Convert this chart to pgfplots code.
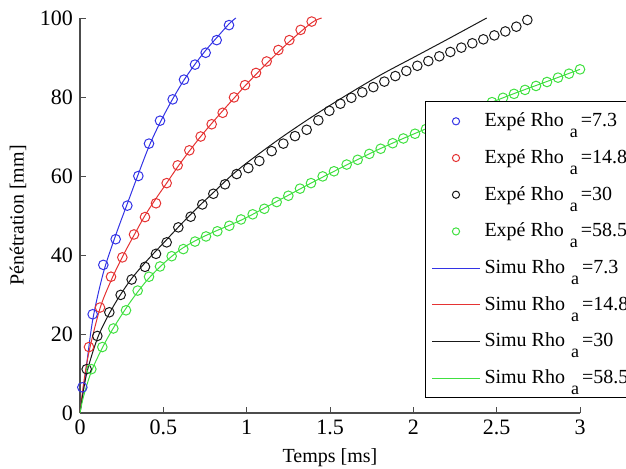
\documentclass[border=0pt]{standalone}
\usepackage{fontspec}
\setmainfont{Liberation Serif}
\usepackage{pgfplots}
\pgfplotsset{compat=1.18}

\definecolor{cb}{rgb}{0.2,0.2,0.9}
\definecolor{cr}{rgb}{0.9,0.2,0.2}
\definecolor{ck}{rgb}{0.1,0.1,0.1}
\definecolor{cg}{rgb}{0.25,0.88,0.25}
\newcommand{\rhoa}{Rho\hspace{3pt}\raisebox{-1.2ex}{\small a}\hspace{1.5pt}}

\pgfplotsset{
  expe/.style={only marks, mark=o, mark size=2.4pt, line width=0.5pt,
    color=#1, draw=#1,
    legend image code/.code={%
      \draw[mark repeat=2,mark phase=2,##1,draw=#1,mark size=1.8pt]
        plot coordinates {(0cm,0cm)(0.42cm,0cm)(0.84cm,0cm)};}},
  simu/.style={no marks, line width=0.5pt, smooth, color=#1, draw=#1,
    legend image code/.code={%
      \draw[##1,draw=#1,line width=0.6pt] (0cm,0cm) -- (0.84cm,0cm);}},
}

\begin{document}
\begin{tikzpicture}
\begin{axis}[
  width=250pt, height=197.5pt, scale only axis,
  xmin=0, xmax=3, ymin=0, ymax=100,
  axis x line*=bottom, axis y line*=left,
  axis line style={line width=0.8pt, black!70},
  tick align=inside, major tick length=3pt,
  tick style={black!70, line width=0.5pt},
  xtick={0,0.5,1,1.5,2,2.5,3},
  ytick={0,20,40,60,80,100},
  /pgf/number format/assume math mode=true,
  tick label style={font=\fontsize{11}{13}\selectfont},
  xlabel={Temps [ms]}, ylabel={Pénétration [mm]},
  clip=false,
  legend cell align=left,
  legend style={at={(0.69,0.789)}, anchor=north west,
    draw=black, line width=0.5pt, fill=white, font=\normalsize,
    row sep=5.9pt, inner ysep=3.5pt},
]
\addplot[expe=cb] coordinates {
  (0.014,6.5)(0.076,25)(0.14,37.5)(0.214,44)(0.284,52.5)(0.35,60)
  (0.414,68.2)(0.48,74)(0.556,79.4)(0.624,84.4)(0.69,88.2)(0.754,91.2)
  (0.82,94.4)(0.894,98.2)};
\addplot[expe=cr] coordinates {
  (0.054,16.7)(0.12,26.7)(0.186,34.5)(0.254,39.4)(0.324,45.2)(0.39,49.6)
  (0.456,53.1)(0.52,58.2)(0.586,62.7)(0.656,66.5)(0.724,70)(0.79,73.1)
  (0.856,76)(0.924,79.9)(0.99,83)(1.056,86.1)(1.12,89)(1.19,91.9)
  (1.256,94.4)(1.324,97)(1.39,99.1)};
\addplot[expe=ck] coordinates {
  (0.04,11.1)(0.104,19.5)(0.176,25.5)(0.244,29.9)(0.31,33.8)(0.39,37)
  (0.456,40.3)(0.52,43.2)(0.59,47)(0.664,49.7)(0.734,52.8)(0.8,55.5)
  (0.87,57.9)(0.94,60.5)(1.01,62)(1.076,63.8)(1.15,66.3)(1.22,68.2)
  (1.29,70.1)(1.36,71.7)(1.43,74.1)(1.496,76.5)(1.562,78.3)(1.628,79.8)
  (1.694,81.2)(1.76,82.5)(1.826,83.9)(1.892,85.3)(1.958,86.6)(2.024,87.9)
  (2.09,89.1)(2.156,90.3)(2.222,91.4)(2.288,92.5)(2.354,93.6)(2.42,94.6)
  (2.486,95.6)(2.552,96.6)(2.618,97.8)(2.684,99.5)};
\addplot[expe=cg] coordinates {
  (0.068,11.1)(0.134,16.7)(0.2,21.4)(0.276,26)(0.346,31)(0.414,34.5)
  (0.48,37.1)(0.55,39.7)(0.62,41.5)(0.69,43.4)(0.756,44.7)(0.824,46)
  (0.896,47.4)(0.966,49)(1.036,50.3)(1.106,51.7)(1.18,53.4)(1.25,55)
  (1.32,56.8)(1.386,58.2)(1.456,59.9)(1.524,61.2)(1.6,62.9)(1.666,64.1)
  (1.736,65.6)(1.804,66.9)(1.876,68.3)(1.94,69.5)(2.01,70.7)(2.076,71.9)
  (2.142,73.1)(2.208,74.2)(2.274,75.4)(2.34,76.5)(2.406,77.6)(2.472,78.7)
  (2.538,79.8)(2.604,80.8)(2.67,81.8)(2.736,82.8)(2.802,83.8)(2.868,84.9)
  (2.934,85.9)(3.0,87)};
\addplot[simu=cb] coordinates {
  (0,0)(0.03,9)(0.076,23.5)(0.14,35.5)(0.214,45)(0.284,53)(0.35,60.5)
  (0.414,67.5)(0.48,73.5)(0.556,79.5)(0.624,84.3)(0.69,88.3)(0.754,91.8)
  (0.82,95)(0.894,98.5)(0.935,100)};
\addplot[simu=cr] coordinates {
  (0,0)(0.02,7)(0.054,15.5)(0.12,26.5)(0.186,33.5)(0.254,39.5)(0.324,45)
  (0.39,50)(0.456,54.3)(0.52,58.2)(0.586,62.3)(0.656,66.3)(0.724,70)
  (0.79,73.3)(0.856,76.5)(0.924,79.7)(0.99,82.8)(1.12,88.5)(1.256,94)
  (1.39,98.8)(1.45,100)};
\addplot[simu=ck] coordinates {
  (0,0)(0.04,10)(0.11,19.5)(0.2,27)(0.3,33.5)(0.4,38.5)(0.5,43)(0.6,47.5)
  (0.7,51.8)(0.8,55.8)(0.9,59.8)(1.0,63.3)(1.2,69.5)(1.4,75.2)(1.6,80.5)
  (1.8,85.5)(2.0,90)(2.2,94.5)(2.44,100)};
\addplot[simu=cg] coordinates {
  (0,0)(0.02,4)(0.068,10.5)(0.134,16.5)(0.2,21.5)(0.3,28)(0.4,33.5)
  (0.5,37.8)(0.6,41.3)(0.7,43.8)(0.8,45.8)(0.9,47.6)(1.0,49.5)(1.2,54)
  (1.4,58.5)(1.6,62.8)(1.8,66.9)(2.0,70.6)(2.2,74.1)(2.4,77.5)(2.6,80.8)
  (2.8,83.9)(3.0,87)};
\legend{Expé \rhoa=7.3, Expé \rhoa=14.8, Expé \rhoa=30, Expé \rhoa=58.5,
  Simu \rhoa=7.3, Simu \rhoa=14.8, Simu \rhoa=30, Simu \rhoa=58.5}
\end{axis}
\pgfresetboundingbox
\path[use as bounding box] (-40pt,-27.5pt) rectangle (273pt,206.5pt);
\end{tikzpicture}
\end{document}
